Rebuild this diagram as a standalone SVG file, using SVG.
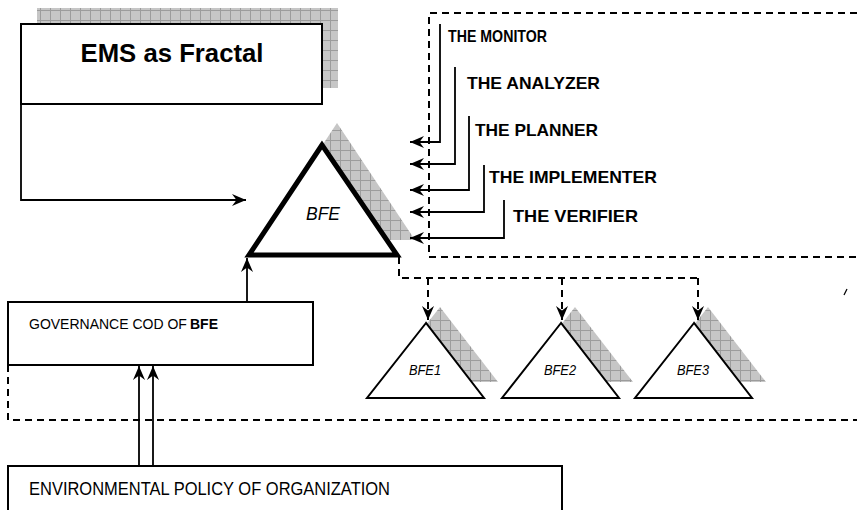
<svg xmlns="http://www.w3.org/2000/svg" width="857" height="510" viewBox="0 0 857 510">
<style>
.box{fill:#fff;stroke:#000;stroke-width:2}
.shadow{fill:url(#hatch);stroke:none}
.dash{fill:none;stroke:#000;stroke-width:2;stroke-dasharray:7 5}
.conn{fill:none;stroke:#000;stroke-width:1.8}
.dconn{fill:none;stroke:#000;stroke-width:2;stroke-dasharray:7 5}
.lbl{font-family:"Liberation Sans",Arial,sans-serif;font-weight:bold;font-size:17px;fill:#000}
.txt{font-family:"Liberation Sans",Arial,sans-serif;font-size:14px;fill:#000}
.it{font-family:"Liberation Sans",Arial,sans-serif;font-style:italic;fill:#000;text-anchor:middle}
</style>
<defs>
<pattern id="hatch" width="10" height="10" patternUnits="userSpaceOnUse">
<rect width="10" height="10" fill="#c6c6c6"/>
<path d="M0,0.5H10M0.5,0V10" stroke="#9c9c9c" stroke-width="1"/>
</pattern>
<marker id="ah" viewBox="0 0 14 12" refX="14" refY="6" markerWidth="14" markerHeight="12" markerUnits="userSpaceOnUse" orient="auto">
<path d="M0,0 L14,6 L0,12 L4.5,6 Z" fill="#000"/>
</marker>
</defs>
<rect width="857" height="510" fill="#fff"/>

<!-- dashed regions -->
<g id="region-top">
<path class="dash" d="M857,13 H429 V257 H857"/>
</g>
<g id="region-bottom">
<path class="dash" d="M8,365 V420 H857"/>
</g>

<!-- EMS box -->
<g id="ems">
<rect class="shadow" x="37" y="8" width="301" height="80"/>
<rect class="box" x="21" y="24" width="301" height="80"/>
<text x="172" y="62" text-anchor="middle" style="font-family:'Liberation Sans',Arial,sans-serif;font-weight:bold;font-size:26px" textLength="183" lengthAdjust="spacingAndGlyphs">EMS as Fractal</text>
</g>

<!-- main BFE triangle -->
<g id="bfe">
<polygon class="shadow" points="337,123 260,240 415,240"/>
<polygon points="322,145 249,255 397,255" fill="#fff" stroke="#000" stroke-width="5" stroke-linejoin="miter"/>
<text class="it" x="323" y="220" font-size="19" textLength="34" lengthAdjust="spacingAndGlyphs">BFE</text>
</g>

<g id="bfe1">
<polygon class="shadow" points="440,307 381,382 498,382"/>
<polygon points="426,323 367,398 484,398" fill="#fff" stroke="#000" stroke-width="2"/>
<text class="it" x="425" y="375" font-size="15" textLength="32" lengthAdjust="spacingAndGlyphs">BFE1</text>
</g>
<g id="bfe2">
<polygon class="shadow" points="575,307 516,382 633,382"/>
<polygon points="561,323 502,398 619,398" fill="#fff" stroke="#000" stroke-width="2"/>
<text class="it" x="560" y="375" font-size="15" textLength="32" lengthAdjust="spacingAndGlyphs">BFE2</text>
</g>
<g id="bfe3">
<polygon class="shadow" points="708,307 649,382 766,382"/>
<polygon points="694,323 635,398 752,398" fill="#fff" stroke="#000" stroke-width="2"/>
<text class="it" x="693" y="375" font-size="15" textLength="32" lengthAdjust="spacingAndGlyphs">BFE3</text>
</g>

<g id="governance">
<rect class="box" x="8" y="302" width="305" height="63"/>
<text class="txt" x="29" y="329">GOVERNANCE COD OF</text>
<text class="txt" x="190" y="329" font-weight="bold">BFE</text>
</g>

<g id="environmental">
<rect class="box" x="8" y="466" width="554" height="60"/>
<text class="txt" x="29" y="495" style="font-size:18px" textLength="361" lengthAdjust="spacingAndGlyphs">ENVIRONMENTAL POLICY OF ORGANIZATION</text>
</g>

<g id="monitor"><text class="lbl" x="448" y="42" textLength="99" lengthAdjust="spacingAndGlyphs">THE MONITOR</text></g>
<g id="analyzer"><text class="lbl" x="467" y="89" textLength="133" lengthAdjust="spacingAndGlyphs">THE ANALYZER</text></g>
<g id="planner"><text class="lbl" x="475" y="136" textLength="123" lengthAdjust="spacingAndGlyphs">THE PLANNER</text></g>
<g id="implementer"><text class="lbl" x="489" y="183" textLength="168" lengthAdjust="spacingAndGlyphs">THE IMPLEMENTER</text></g>
<g id="verifier"><text class="lbl" x="513" y="222" textLength="125" lengthAdjust="spacingAndGlyphs">THE VERIFIER</text></g>

<!-- connectors -->
<g id="connectors">
<path class="conn" d="M21,104 V200 H246" marker-end="url(#ah)"/>
<path class="conn" d="M247,302 V258" marker-end="url(#ah)"/>
<path class="conn" d="M139,466 V366" marker-end="url(#ah)"/>
<path class="conn" d="M153,466 V366" marker-end="url(#ah)"/>
<path class="conn" d="M440,24 V142 H410" marker-end="url(#ah)"/>
<path class="conn" d="M455,67 V164 H410" marker-end="url(#ah)"/>
<path class="conn" d="M469,116 V190 H410" marker-end="url(#ah)"/>
<path class="conn" d="M484,165 V212 H410" marker-end="url(#ah)"/>
<path class="conn" d="M504,200 V238 H410" marker-end="url(#ah)"/>
<path class="dconn" d="M399,257 V278 H698"/>
<path class="dconn" d="M428,278 V320" marker-end="url(#ah)"/>
<path class="dconn" d="M562,278 V320" marker-end="url(#ah)"/>
<path class="dconn" d="M698,278 V320" marker-end="url(#ah)"/>
<path d="M844,295 L847,289" stroke="#000" stroke-width="1.2"/>
</g>
</svg>
